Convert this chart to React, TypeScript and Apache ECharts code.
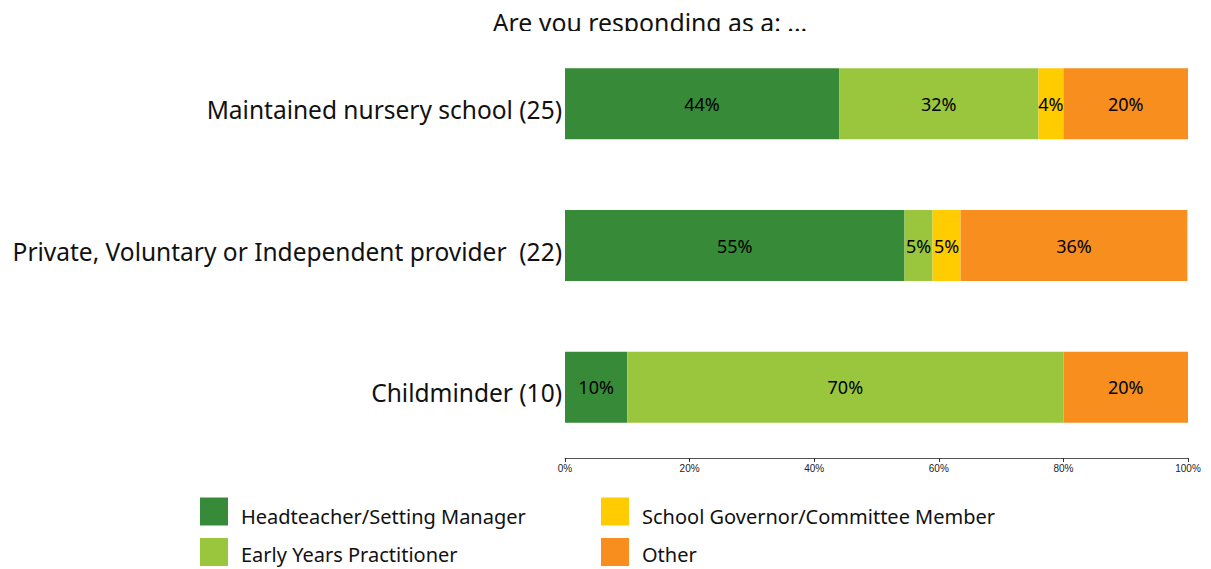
import React, { useEffect, useRef } from "react";
import * as echarts from "echarts";

const categories = [
  "Maintained nursery school (25)",
  "Private, Voluntary or Independent provider  (22)",
  "Childminder (10)",
];
const seriesNames = [
  "Headteacher/Setting Manager",
  "Early Years Practitioner",
  "School Governor/Committee Member",
  "Other",
];
const headteacher = [44, 54.5, 10];
const practitioner = [32, 4.5, 70];
const governor = [4, 4.5, 0];
const other = [20, 36.4, 20];
const xTicks = [0, 20, 40, 60, 80, 100];

const colors = ["#378A37", "#99C63C", "#FFCC00", "#F78E1E"];
const FONT = "'Noto Sans', 'Open Sans', sans-serif";

export default function App() {
  const ref = useRef<HTMLDivElement>(null);
  useEffect(() => {
    if (!ref.current) return;
    const chart = echarts.init(ref.current, undefined, { renderer: "svg" });
    const values = [headteacher, practitioner, governor, other];
    const legendSlots = [
      { left: 200, top: 497, pad: 9 },
      { left: 200, top: 538, pad: 5 },
      { left: 601, top: 497, pad: 9 },
      { left: 601, top: 538, pad: 5 },
    ];
    const legends = seriesNames.map((name, i) => ({
      data: [name],
      left: legendSlots[i].left,
      top: legendSlots[i].top,
      padding: 0,
      itemWidth: 28,
      itemHeight: 28,
      icon: "rect",
      formatter: (n: string) => `{t|${n}}`,
      textStyle: {
        fontFamily: FONT,
        fontSize: 20,
        color: "#111",
        rich: {
          t: {
            fontFamily: FONT,
            fontSize: 20,
            lineHeight: 18,
            color: "#111",
            padding: [legendSlots[i].pad, 0, 0, 8],
          },
        },
      },
    }));
    chart.setOption({
      animation: false,
      backgroundColor: "#ffffff",
      title: {
        text: "Are you responding as a: ...",
        left: 645,
        top: 4,
        textAlign: "center",
        textStyle: { fontFamily: FONT, fontSize: 24.8, fontWeight: "normal", color: "#111" },
      },
      graphic: [
        { type: "rect", shape: { x: 400, y: 31, width: 500, height: 12 }, style: { fill: "#fff" }, z: 100 },
      ],
      grid: { left: 565, right: 23, top: 33, bottom: 111, containLabel: false },
      xAxis: {
        type: "value",
        min: 0,
        max: 100,
        interval: 20,
        splitLine: { show: false },
        axisLine: { show: true, lineStyle: { color: "#555", width: 1 } },
        axisTick: { show: true, length: 4, lineStyle: { color: "#333" } },
        axisLabel: {
          fontFamily: "'Liberation Sans', Arial, sans-serif",
          fontSize: 10,
          color: "#222",
          margin: 5,
          formatter: (v: number) => (xTicks.includes(v) ? v + "%" : ""),
        },
      },
      yAxis: {
        type: "category",
        data: categories,
        inverse: true,
        axisLine: { show: false },
        axisTick: { show: false },
        axisLabel: {
          fontFamily: FONT,
          fontSize: 24.5,
          color: "#111",
          margin: 3,
          formatter: (v: string) => `{c|${v}}`,
          rich: {
            c: { fontFamily: FONT, fontSize: 24.5, color: "#111", padding: [11, 0, 0, 0] },
          },
        },
      },
      legend: legends,
      series: seriesNames.map((name, i) => ({
        name,
        type: "bar",
        stack: "total",
        barWidth: 71,
        data: values[i],
        itemStyle: { color: colors[i] },
        label: {
          show: true,
          position: "inside",
          fontFamily: FONT,
          fontSize: 18,
          color: "#000",
          formatter: (p: any) => (p.value > 0 ? Math.round(p.value) + "%" : ""),
        },
      })),
    });
    return () => chart.dispose();
  }, []);
  return (
    <div
      ref={ref}
      style={{ position: "fixed", left: 0, top: 0, width: 1211, height: 569 }}
    />
  );
}
